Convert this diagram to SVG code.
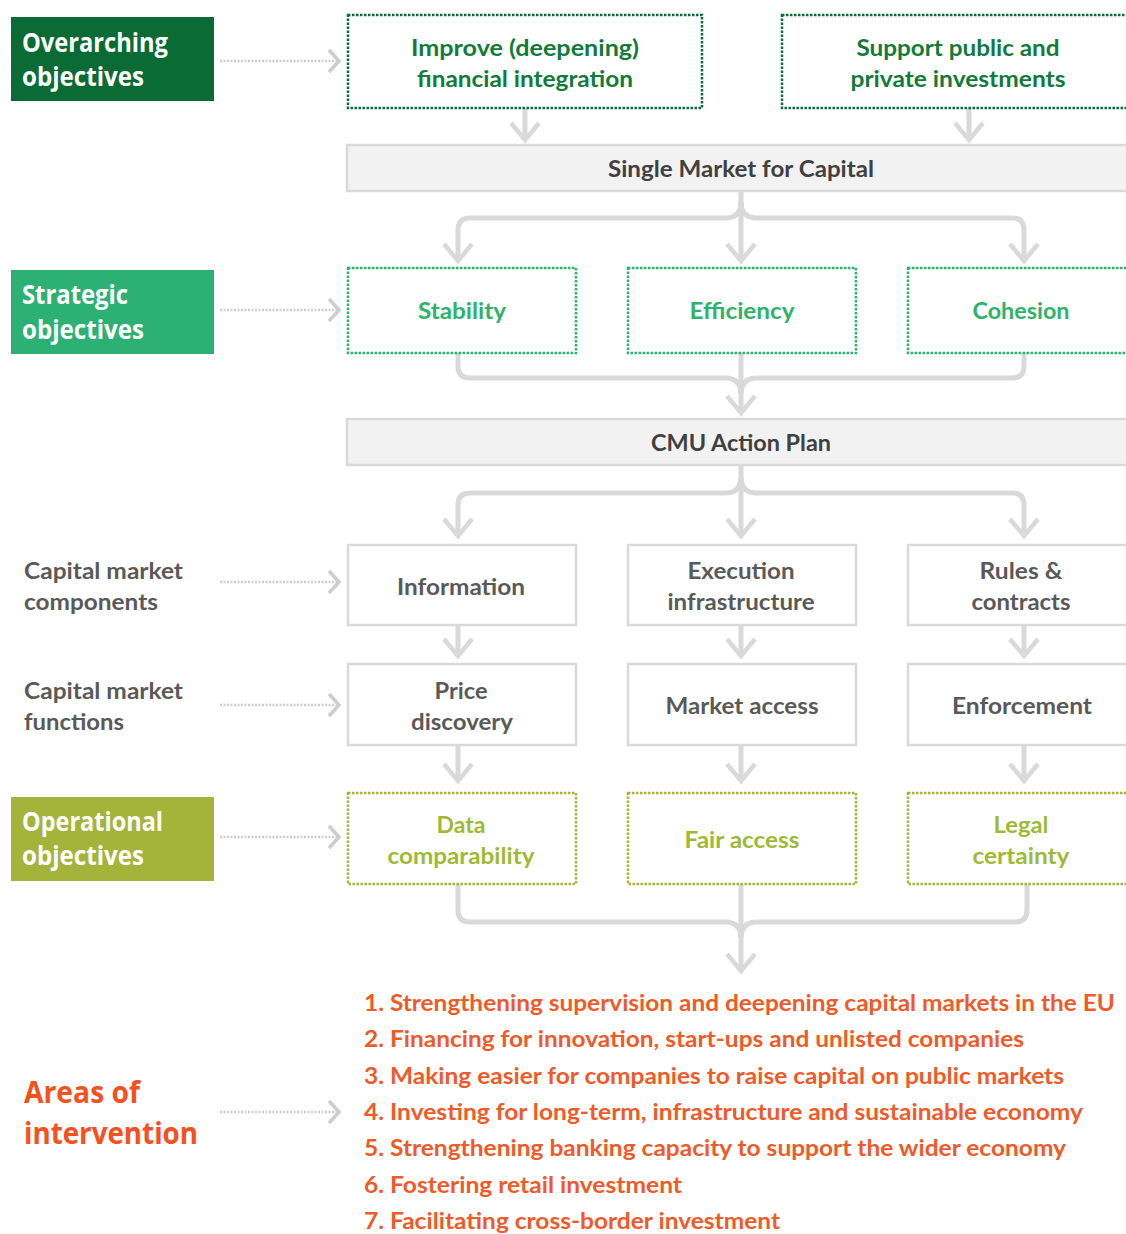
<svg xmlns="http://www.w3.org/2000/svg" width="1126" height="1234" viewBox="0 0 1126 1234">
<style>
.lbl{font-family:"Open Sans","Liberation Sans",sans-serif;font-weight:700;font-size:27px;fill:#ffffff}
.area{font-family:"Open Sans","Liberation Sans",sans-serif;font-weight:700;font-size:30px;fill:#F4511E}
.glbl{font-family:Lato,"Liberation Sans",sans-serif;font-weight:700;font-size:22px;fill:#595959}
.t{font-family:Lato,"Liberation Sans",sans-serif;font-weight:700;font-size:23px;text-anchor:middle}
.dk{fill:#127A3C}
.gr{fill:#2DB36A}
.ol{fill:#9DBA36}
.gy{fill:#595959}
.bar{fill:#404040}
.lst{font-family:Lato,"Liberation Sans",sans-serif;font-weight:700;font-size:22px;fill:#F05A28}
.bdk{fill:#ffffff;stroke:#0B6B34;stroke-width:2.5;stroke-dasharray:2.5 1.5}
.bgr{fill:#ffffff;stroke:#2DB36A;stroke-width:2.5;stroke-dasharray:2.5 1.5}
.bol{fill:#ffffff;stroke:#A4B33A;stroke-width:2.5;stroke-dasharray:2.5 1.5}
.bgy{fill:#ffffff;stroke:#D9D9D9;stroke-width:2.5}
.bbar{fill:#F2F2F2;stroke:#D9D9D9;stroke-width:2.5}
.c{fill:none;stroke:#D9D9D9;stroke-width:5}
.ca{fill:none;stroke:#D9D9D9;stroke-width:5;marker-end:url(#chev)}
.dl{fill:none;stroke:#CDCDCD;stroke-width:2.5;stroke-dasharray:2 1.5}
.dc{fill:none;stroke:#CDCDCD;stroke-width:3.5}
</style>
<defs>
<marker id="chev" markerUnits="userSpaceOnUse" markerWidth="34" markerHeight="34" viewBox="0 0 34 34" refX="30" refY="17" orient="auto">
<path d="M13 3 L30 17 L13 31" fill="none" stroke="#D9D9D9" stroke-width="4.5"/>
</marker>
</defs>
<rect width="1126" height="1234" fill="#ffffff"/>

<g id="label-overarching">
<rect x="11" y="17" width="203" height="84" fill="#0B6B34"/>
<text class="lbl" x="22" y="52" textLength="146" lengthAdjust="spacingAndGlyphs">Overarching</text>
<text class="lbl" x="22" y="86" textLength="122" lengthAdjust="spacingAndGlyphs">objectives</text>
</g>
<g id="label-strategic">
<rect x="11" y="270" width="203" height="84" fill="#2DB074"/>
<text class="lbl" x="22" y="304" textLength="106" lengthAdjust="spacingAndGlyphs">Strategic</text>
<text class="lbl" x="22" y="339" textLength="122" lengthAdjust="spacingAndGlyphs">objectives</text>
</g>
<g id="label-components">
<text class="glbl" x="24" y="579" textLength="159" lengthAdjust="spacingAndGlyphs">Capital market</text>
<text class="glbl" x="24" y="610" textLength="134" lengthAdjust="spacingAndGlyphs">components</text>
</g>
<g id="label-functions">
<text class="glbl" x="24" y="699" textLength="159" lengthAdjust="spacingAndGlyphs">Capital market</text>
<text class="glbl" x="24" y="730" textLength="100" lengthAdjust="spacingAndGlyphs">functions</text>
</g>
<g id="label-operational">
<rect x="11" y="797" width="203" height="84" fill="#A4B33A"/>
<text class="lbl" x="22" y="831" textLength="141" lengthAdjust="spacingAndGlyphs">Operational</text>
<text class="lbl" x="22" y="865" textLength="122" lengthAdjust="spacingAndGlyphs">objectives</text>
</g>
<g id="label-areas">
<text class="area" x="24" y="1103" textLength="116" lengthAdjust="spacingAndGlyphs">Areas of</text>
<text class="area" x="24" y="1144" textLength="174" lengthAdjust="spacingAndGlyphs">intervention</text>
</g>

<g id="connectors">
<path class="dl" d="M220 61 H337"/><path class="dc" d="M329 50 L339 61 L329 72"/>
<path class="dl" d="M220 310 H337"/><path class="dc" d="M329 299 L339 310 L329 321"/>
<path class="dl" d="M220 582 H337"/><path class="dc" d="M329 571 L339 582 L329 593"/>
<path class="dl" d="M220 705 H337"/><path class="dc" d="M329 694 L339 705 L329 716"/>
<path class="dl" d="M220 837 H337"/><path class="dc" d="M329 826 L339 837 L329 848"/>
<path class="dl" d="M220 1112 H337"/><path class="dc" d="M329 1101 L339 1112 L329 1123"/>

<path class="ca" d="M525 108 V140"/>
<path class="ca" d="M969 108 V140"/>

<path class="ca" d="M741 191 V261"/>
<path class="ca" d="M741 202 Q741 218 725 218 H470 Q458 218 458 230 V261"/>
<path class="ca" d="M741 202 Q741 218 757 218 H1012 Q1024 218 1024 230 V261"/>

<path class="c" d="M458 353 V366 Q458 378 470 378 H725 Q741 378 741 394"/>
<path class="c" d="M1024 353 V366 Q1024 378 1012 378 H757 Q741 378 741 394"/>
<path class="ca" d="M741 353 V413"/>

<path class="ca" d="M741 465 V536"/>
<path class="ca" d="M741 477 Q741 493 725 493 H470 Q458 493 458 505 V536"/>
<path class="ca" d="M741 477 Q741 493 757 493 H1012 Q1024 493 1024 505 V536"/>

<path class="ca" d="M458 625 V656"/>
<path class="ca" d="M741 625 V656"/>
<path class="ca" d="M1024 625 V656"/>

<path class="ca" d="M458 745 V781"/>
<path class="ca" d="M741 745 V781"/>
<path class="ca" d="M1024 745 V781"/>

<path class="c" d="M458 884 V910 Q458 922 470 922 H725 Q741 922 741 938"/>
<path class="c" d="M1027 884 V910 Q1027 922 1015 922 H757 Q741 922 741 938"/>
<path class="ca" d="M741 884 V971"/>
</g>

<g id="node-improve">
<rect class="bdk" x="348" y="15" width="354" height="93"/>
<text class="t dk" x="525" y="56" textLength="228" lengthAdjust="spacingAndGlyphs">Improve (deepening)</text>
<text class="t dk" x="525" y="87" textLength="216" lengthAdjust="spacingAndGlyphs">financial integration</text>
</g>
<g id="node-support">
<rect class="bdk" x="782" y="15" width="352" height="93"/>
<text class="t dk" x="958" y="56" textLength="203" lengthAdjust="spacingAndGlyphs">Support public and</text>
<text class="t dk" x="958" y="87" textLength="215" lengthAdjust="spacingAndGlyphs">private investments</text>
</g>
<g id="node-single-market">
<rect class="bbar" x="347" y="145" width="787" height="46"/>
<text class="t bar" x="741" y="177" textLength="266" lengthAdjust="spacingAndGlyphs">Single Market for Capital</text>
</g>
<g id="node-stability">
<rect class="bgr" x="348" y="268" width="228" height="85"/>
<text class="t gr" x="462" y="319" textLength="88" lengthAdjust="spacingAndGlyphs">Stability</text>
</g>
<g id="node-efficiency">
<rect class="bgr" x="628" y="268" width="228" height="85"/>
<text class="t gr" x="742" y="319" textLength="105" lengthAdjust="spacingAndGlyphs">Efficiency</text>
</g>
<g id="node-cohesion">
<rect class="bgr" x="908" y="268" width="226" height="85"/>
<text class="t gr" x="1021" y="319" textLength="97" lengthAdjust="spacingAndGlyphs">Cohesion</text>
</g>
<g id="node-cmu">
<rect class="bbar" x="347" y="419" width="787" height="46"/>
<text class="t bar" x="741" y="451" textLength="180" lengthAdjust="spacingAndGlyphs">CMU Action Plan</text>
</g>
<g id="node-information">
<rect class="bgy" x="348" y="545" width="228" height="80"/>
<text class="t gy" x="461" y="595" textLength="128" lengthAdjust="spacingAndGlyphs">Information</text>
</g>
<g id="node-execution">
<rect class="bgy" x="628" y="545" width="228" height="80"/>
<text class="t gy" x="741" y="579" textLength="107" lengthAdjust="spacingAndGlyphs">Execution</text>
<text class="t gy" x="741" y="610" textLength="147" lengthAdjust="spacingAndGlyphs">infrastructure</text>
</g>
<g id="node-rules">
<rect class="bgy" x="908" y="545" width="226" height="80"/>
<text class="t gy" x="1021" y="579" textLength="83" lengthAdjust="spacingAndGlyphs">Rules &amp;</text>
<text class="t gy" x="1021" y="610" textLength="99" lengthAdjust="spacingAndGlyphs">contracts</text>
</g>
<g id="node-price">
<rect class="bgy" x="348" y="664" width="228" height="81"/>
<text class="t gy" x="461" y="699" textLength="53" lengthAdjust="spacingAndGlyphs">Price</text>
<text class="t gy" x="462" y="730" textLength="102" lengthAdjust="spacingAndGlyphs">discovery</text>
</g>
<g id="node-market-access">
<rect class="bgy" x="628" y="664" width="228" height="81"/>
<text class="t gy" x="742" y="714" textLength="153" lengthAdjust="spacingAndGlyphs">Market access</text>
</g>
<g id="node-enforcement">
<rect class="bgy" x="908" y="664" width="226" height="81"/>
<text class="t gy" x="1022" y="714" textLength="140" lengthAdjust="spacingAndGlyphs">Enforcement</text>
</g>
<g id="node-data">
<rect class="bol" x="348" y="793" width="228" height="91"/>
<text class="t ol" x="461" y="833" textLength="49" lengthAdjust="spacingAndGlyphs">Data</text>
<text class="t ol" x="461" y="864" textLength="147" lengthAdjust="spacingAndGlyphs">comparability</text>
</g>
<g id="node-fair-access">
<rect class="bol" x="628" y="793" width="228" height="91"/>
<text class="t ol" x="742" y="848" textLength="115" lengthAdjust="spacingAndGlyphs">Fair access</text>
</g>
<g id="node-legal">
<rect class="bol" x="908" y="793" width="226" height="91"/>
<text class="t ol" x="1021" y="833" textLength="55" lengthAdjust="spacingAndGlyphs">Legal</text>
<text class="t ol" x="1021" y="864" textLength="97" lengthAdjust="spacingAndGlyphs">certainty</text>
</g>
<g id="node-areas-list">
<text class="lst" x="364" y="1011" textLength="751" lengthAdjust="spacingAndGlyphs">1. Strengthening supervision and deepening capital markets in the EU</text>
<text class="lst" x="364" y="1047" textLength="660" lengthAdjust="spacingAndGlyphs">2. Financing for innovation, start-ups and unlisted companies</text>
<text class="lst" x="364" y="1084" textLength="700" lengthAdjust="spacingAndGlyphs">3. Making easier for companies to raise capital on public markets</text>
<text class="lst" x="364" y="1120" textLength="719" lengthAdjust="spacingAndGlyphs">4. Investing for long-term, infrastructure and sustainable economy</text>
<text class="lst" x="364" y="1156" textLength="702" lengthAdjust="spacingAndGlyphs">5. Strengthening banking capacity to support the wider economy</text>
<text class="lst" x="364" y="1193" textLength="318" lengthAdjust="spacingAndGlyphs">6. Fostering retail investment</text>
<text class="lst" x="364" y="1229" textLength="416" lengthAdjust="spacingAndGlyphs">7. Facilitating cross-border investment</text>
</g>
</svg>
